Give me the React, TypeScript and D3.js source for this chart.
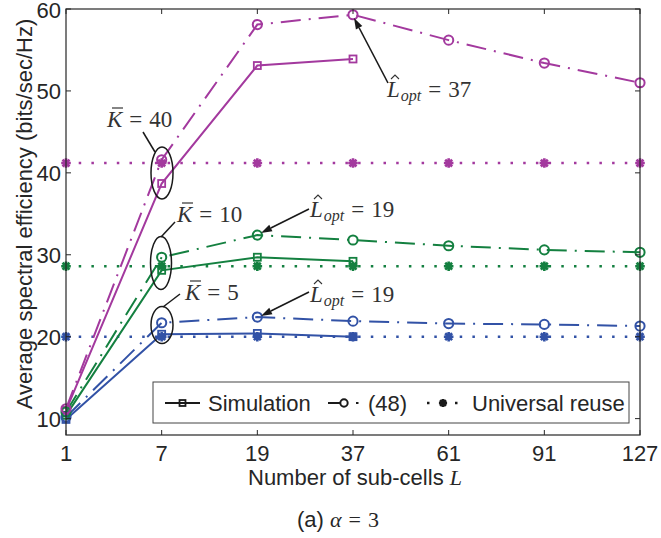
import React from "react";
import * as d3 from "d3";

// ---------- data ----------
const L_VALUES = ["1", "7", "19", "37", "61", "91", "127"];
const Y_TICKS = [10, 20, 30, 40, 50, 60];

// K = 40 (magenta)
const SIM_K40 = [11.0, 38.7, 53.1, 53.9];
const EQ48_K40 = [11.2, 41.6, 58.1, 59.3, 56.2, 53.4, 51.0];
const UNI_K40 = [41.2, 41.2, 41.2, 41.2, 41.2, 41.2, 41.2];
// K = 10 (green)
const SIM_K10 = [10.4, 28.1, 29.7, 29.2];
const EQ48_K10 = [10.8, 29.7, 32.4, 31.8, 31.1, 30.6, 30.3];
const UNI_K10 = [28.6, 28.6, 28.6, 28.6, 28.6, 28.6, 28.6];
// K = 5 (blue)
const SIM_K5 = [9.9, 20.3, 20.4, 20.0];
const EQ48_K5 = [10.2, 21.7, 22.4, 21.9, 21.6, 21.5, 21.3];
const UNI_K5 = [20.0, 20.0, 20.0, 20.0, 20.0, 20.0, 20.0];

const COLORS = { k40: "#A3399E", k10: "#148040", k5: "#3252A6" };

type Kind = "sim" | "eq48" | "uni";
const SERIES: { kind: Kind; color: string; values: number[] }[] = [
  { kind: "uni", color: COLORS.k5, values: UNI_K5 },
  { kind: "uni", color: COLORS.k10, values: UNI_K10 },
  { kind: "uni", color: COLORS.k40, values: UNI_K40 },
  { kind: "sim", color: COLORS.k5, values: SIM_K5 },
  { kind: "sim", color: COLORS.k10, values: SIM_K10 },
  { kind: "sim", color: COLORS.k40, values: SIM_K40 },
  { kind: "eq48", color: COLORS.k5, values: EQ48_K5 },
  { kind: "eq48", color: COLORS.k10, values: EQ48_K10 },
  { kind: "eq48", color: COLORS.k40, values: EQ48_K40 },
];

// ---------- layout ----------
const W = 661;
const H = 538;
const PL = 66, PR = 640, PT = 9, PB = 435;
const SANS = "'Liberation Sans', Arial, sans-serif";
const SERIF = "'Liberation Serif', 'Times New Roman', serif";
const TXT = "#262626";
const MATH = "#333";
const FS = 22;

const x = d3.scalePoint<string>().domain(L_VALUES).range([PL, PR]);
const y = d3.scaleLinear().domain([8, 60]).range([PB, PT]);

const DASH: Record<Kind, string | undefined> = {
  sim: undefined,
  eq48: "20 8 2 8",
  uni: "2.5 10.2",
};

function starPath(cx: number, cy: number, s: number) {
  const d = s * 0.72;
  return `M${cx - s},${cy}L${cx + s},${cy}M${cx},${cy - s}L${cx},${cy + s}M${cx - d},${cy - d}L${cx + d},${cy + d}M${cx - d},${cy + d}L${cx + d},${cy - d}`;
}

function Marker({ kind, cx, cy, color, scale = 1 }: { kind: Kind; cx: number; cy: number; color: string; scale?: number }) {
  if (kind === "sim") {
    const s = 7 * scale;
    return <rect x={cx - s / 2} y={cy - s / 2} width={s} height={s} fill="none" stroke={color} strokeWidth={1.8} />;
  }
  if (kind === "eq48") {
    return <circle cx={cx} cy={cy} r={4.6 * scale} fill="none" stroke={color} strokeWidth={2} />;
  }
  return <path d={starPath(cx, cy, 4.8 * scale)} stroke={color} strokeWidth={2.6} fill="none" />;
}

function Arrow({ x1, y1, x2, y2 }: { x1: number; y1: number; x2: number; y2: number }) {
  const ang = Math.atan2(y2 - y1, x2 - x1);
  const len = 11, half = 3.6;
  const bx = x2 - len * Math.cos(ang), by = y2 - len * Math.sin(ang);
  const px = -Math.sin(ang) * half, py = Math.cos(ang) * half;
  return (
    <g>
      <line x1={x1} y1={y1} x2={bx} y2={by} stroke="#1a1a1a" strokeWidth={1.6} />
      <path d={`M${x2},${y2}L${bx + px},${by + py}L${bx - px},${by - py}Z`} fill="#1a1a1a" />
    </g>
  );
}

function KLabel({ x0, y0, val }: { x0: number; y0: number; val: string }) {
  return (
    <g>
      <text x={x0} y={y0} fontFamily={SERIF} fontSize={23} fill={MATH}>
        <tspan fontStyle="italic">K</tspan>
        <tspan dx={7}>=</tspan>
        <tspan dx={7}>{val}</tspan>
      </text>
      <line x1={x0 + 5} x2={x0 + 16} y1={y0 - 19} y2={y0 - 19} stroke={MATH} strokeWidth={1.2} />
    </g>
  );
}

function LLabel({ x0, y0, val }: { x0: number; y0: number; val: string }) {
  return (
    <g>
      <text x={x0} y={y0} fontFamily={SERIF} fontSize={23} fill={MATH}>
        <tspan fontStyle="italic">L</tspan>
        <tspan fontStyle="italic" fontSize={16} dy={4} dx={1}>opt</tspan>
        <tspan dy={-4} dx={7}>=</tspan>
        <tspan dx={7}>{val}</tspan>
      </text>
      <path d={`M${x0 + 4},${y0 - 18}L${x0 + 8},${y0 - 22}L${x0 + 12},${y0 - 18}`} fill="none" stroke={MATH} strokeWidth={1.1} />
    </g>
  );
}

export default function App() {
  const line = d3
    .line<number>()
    .x((_, i) => x(L_VALUES[i]) as number)
    .y((d) => y(d));

  const tickLen = 5;
  const legendY = 403;

  return (
    <svg width={W} height={H} viewBox={`0 0 ${W} ${H}`} style={{ position: "absolute", left: 0, top: 0, background: "#fff" }}>
      <rect x={0} y={0} width={W} height={H} fill="#fff" />

      {/* series lines */}
      {SERIES.map((s, i) => (
        <path
          key={"l" + i}
          d={line(s.values) || ""}
          fill="none"
          stroke={s.color}
          strokeWidth={s.kind === "uni" ? 2.5 : 2}
          strokeDasharray={DASH[s.kind]}
        />
      ))}
      {/* markers */}
      {SERIES.map((s, i) =>
        s.values.map((v, j) => (
          <Marker key={"m" + i + "-" + j} kind={s.kind} cx={x(L_VALUES[j]) as number} cy={y(v)} color={s.color} />
        ))
      )}

      {/* axes box */}
      <rect x={PL} y={PT} width={PR - PL} height={PB - PT} fill="none" stroke={TXT} strokeWidth={1.2} />
      {L_VALUES.map((l) => {
        const xx = x(l) as number;
        return (
          <g key={"xt" + l}>
            <line x1={xx} x2={xx} y1={PB} y2={PB - tickLen} stroke={TXT} strokeWidth={1} />
            <line x1={xx} x2={xx} y1={PT} y2={PT + tickLen} stroke={TXT} strokeWidth={1} />
            <text x={xx} y={461} textAnchor="middle" fontFamily={SANS} fontSize={FS} fill={TXT}>
              {l}
            </text>
          </g>
        );
      })}
      {Y_TICKS.map((t) => {
        const yy = y(t);
        return (
          <g key={"yt" + t}>
            <line x1={PL} x2={PL + tickLen} y1={yy} y2={yy} stroke={TXT} strokeWidth={1} />
            <line x1={PR} x2={PR - tickLen} y1={yy} y2={yy} stroke={TXT} strokeWidth={1} />
            <text x={61} y={yy + 8.5} textAnchor="end" fontFamily={SANS} fontSize={FS} fill={TXT}>
              {t}
            </text>
          </g>
        );
      })}

      {/* axis titles */}
      <text x={355} y={485} textAnchor="middle" fontSize={FS} fill={TXT}>
        <tspan fontFamily={SANS}>Number of sub-cells </tspan>
        <tspan fontFamily={SERIF} fontStyle="italic">L</tspan>
      </text>
      <text
        transform="translate(32,214) rotate(-90)"
        textAnchor="middle"
        fontFamily={SANS}
        fontSize={FS}
        fill={TXT}
      >
        Average spectral efficiency (bits/sec/Hz)
      </text>

      {/* caption */}
      <text x={297} y={527} fontSize={FS} fill={TXT}>
        <tspan fontFamily={SANS}>(a) </tspan>
        <tspan fontFamily={SERIF} fontStyle="italic">α</tspan>
        <tspan fontFamily={SERIF} dx={7}>=</tspan>
        <tspan fontFamily={SERIF} dx={7}>3</tspan>
      </text>

      {/* annotations: ellipses */}
      <ellipse cx={162} cy={173} rx={11} ry={26} fill="none" stroke="#1a1a1a" strokeWidth={1.5} />
      <ellipse cx={161} cy={263} rx={10.5} ry={26.5} fill="none" stroke="#1a1a1a" strokeWidth={1.5} />
      <ellipse cx={162} cy={325} rx={11} ry={18.5} fill="none" stroke="#1a1a1a" strokeWidth={1.5} />
      <line x1={155} y1={152} x2={143} y2={132} stroke="#1a1a1a" strokeWidth={1.5} />
      <line x1={161} y1={237} x2={175} y2={222} stroke="#1a1a1a" strokeWidth={1.5} />
      <line x1={163} y1={307} x2={180} y2={294} stroke="#1a1a1a" strokeWidth={1.5} />
      <KLabel x0={107} y0={127} val="40" />
      <KLabel x0={177} y0={222} val="10" />
      <KLabel x0={185} y0={300} val="5" />

      {/* Lopt arrows */}
      <Arrow x1={388} y1={83} x2={354} y2={18} />
      <Arrow x1={309} y1={209} x2={261} y2={233} />
      <Arrow x1={309} y1={292} x2={261} y2={316} />
      <LLabel x0={387} y0={97} val="37" />
      <LLabel x0={310} y0={217} val="19" />
      <LLabel x0={310} y0={302} val="19" />

      {/* legend */}
      <rect x={153} y={382} width={476} height={41} fill="#fff" stroke="#444" strokeWidth={1} />
      <line x1={165} x2={200} y1={legendY} y2={legendY} stroke="#1a1a1a" strokeWidth={2} />
      <Marker kind="sim" cx={182.5} cy={legendY} color="#1a1a1a" scale={0.85} />
      <text x={208} y={411} fontFamily={SANS} fontSize={FS} fill={TXT}>Simulation</text>

      <line x1={328} x2={341} y1={legendY} y2={legendY} stroke="#1a1a1a" strokeWidth={2} />
      <Marker kind="eq48" cx={344} cy={legendY} color="#1a1a1a" scale={0.8} />
      <line x1={356} x2={358.5} y1={legendY} y2={legendY} stroke="#1a1a1a" strokeWidth={2} />
      <text x={368} y={411} fontFamily={SANS} fontSize={FS} fill={TXT}>(48)</text>

      <line x1={427} x2={429.5} y1={legendY} y2={legendY} stroke="#1a1a1a" strokeWidth={2.5} />
      <Marker kind="uni" cx={443} cy={legendY} color="#1a1a1a" scale={0.85} />
      <line x1={455} x2={457.5} y1={legendY} y2={legendY} stroke="#1a1a1a" strokeWidth={2.5} />
      <text x={472} y={411} fontFamily={SANS} fontSize={FS} fill={TXT}>Universal reuse</text>
    </svg>
  );
}
